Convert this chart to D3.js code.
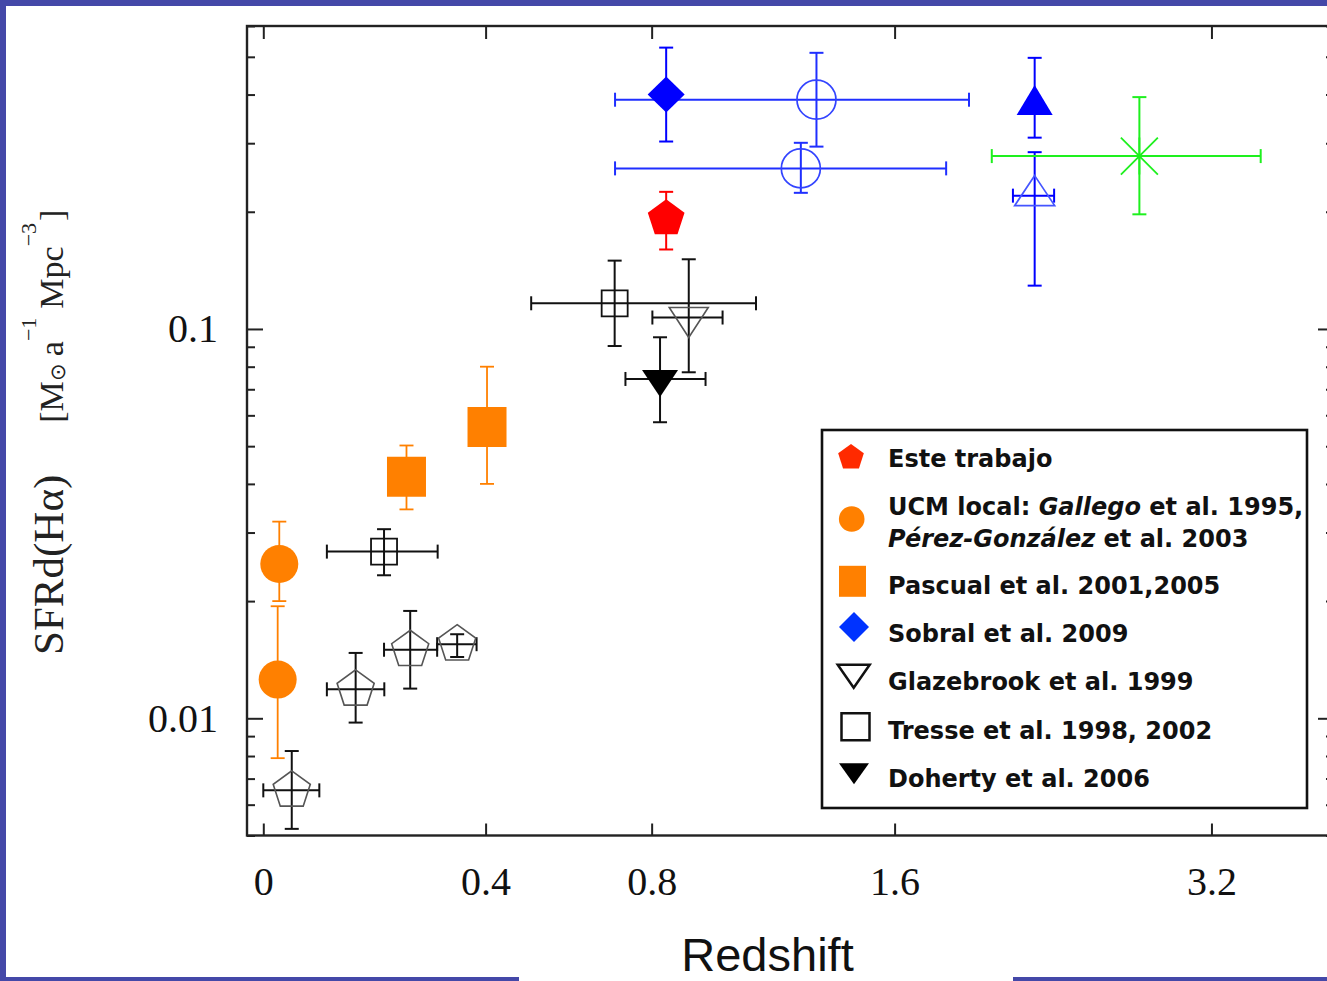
<!DOCTYPE html>
<html><head><meta charset="utf-8">
<script src="https://cdn.jsdelivr.net/npm/d3@7"></script>
<style>
html,body{margin:0;padding:0;background:#fff;}
svg{display:block;}
</style></head><body>
<svg id="chart" width="1327" height="981"></svg>
<script>
// ---------------- data ----------------
const xTickValues = [0, 0.4, 0.8, 1.6, 3.2];
const xTickLabels = ["0", "0.4", "0.8", "1.6", "3.2"];
const yMajorTicks = [0.01, 0.1];
const yMajorLabels = ["0.01", "0.1"];
const yMinorTicks = [0.005, 0.006, 0.007, 0.008, 0.009,
  0.02, 0.03, 0.04, 0.05, 0.06, 0.07, 0.08, 0.09,
  0.2, 0.3, 0.4, 0.5, 0.6];

// z = redshift, sfrd = SFR density, lo/hi = vertical error, zLo/zHi = horizontal error
const esteTrabajo = [
  { z: 0.84, sfrd: 0.192, lo: 0.160, hi: 0.225 }
];
const ucmLocal = [
  { z: 0.0245, sfrd: 0.0249, lo: 0.0200, hi: 0.0320 },
  { z: 0.022, sfrd: 0.01257, lo: 0.0079, hi: 0.0194 }
];
const pascual = [
  { z: 0.242, sfrd: 0.0417, lo: 0.0344, hi: 0.0502 },
  { z: 0.403, sfrd: 0.056, lo: 0.040, hi: 0.080 }
];
const sobral = [
  { z: 0.84, sfrd: 0.40, lo: 0.303, hi: 0.528 }
];
const blueOpenCircles = [
  { z: 1.31, sfrd: 0.388, lo: 0.294, hi: 0.512, zLo: 0.703, zHi: 1.910 },
  { z: 1.256, sfrd: 0.2585, lo: 0.2237, hi: 0.3007, zLo: 0.703, zHi: 1.811 }
];
const blueFilledTriangle = [
  { z: 2.214, sfrd: 0.376, lo: 0.31, hi: 0.497 }
];
const blueOpenTriangle = [
  { z: 2.214, sfrd: 0.22, lo: 0.1292, hi: 0.2845, zLo: 2.110, zHi: 2.310 }
];
const greenStar = [
  { z: 2.766, sfrd: 0.278, lo: 0.197, hi: 0.394, zLo: 2.012, zHi: 3.525 }
];
const glazebrook = [
  { z: 0.904, sfrd: 0.107, lo: 0.0774, hi: 0.151, zLo: 0.802, zHi: 1.004 }
];
const tresse = [
  { z: 0.2005, sfrd: 0.0268, lo: 0.0233, hi: 0.0306, zLo: 0.101, zHi: 0.302 },
  { z: 0.702, sfrd: 0.1164, lo: 0.0904, hi: 0.1498, zLo: 0.50, zHi: 1.108 }
];
const doherty = [
  { z: 0.823, sfrd: 0.0744, lo: 0.0576, hi: 0.0952, zLo: 0.730, zHi: 0.953 }
];
const openPentagons = [
  { z: 0.044, sfrd: 0.00653, lo: 0.0052, hi: 0.00824, zLo: 0.0, zHi: 0.0885 },
  { z: 0.150, sfrd: 0.01187, lo: 0.00975, hi: 0.01472, zLo: 0.101, zHi: 0.201 },
  { z: 0.249, sfrd: 0.0150, lo: 0.01192, hi: 0.01887, zLo: 0.2005, zHi: 0.301 },
  { z: 0.341, sfrd: 0.0155, lo: 0.01437, hi: 0.01644, zLo: 0.301, zHi: 0.381 }
];

const legendLabels = [
  "Este trabajo",
  "UCM local: Gallego et al. 1995,|Pérez-González et al. 2003",
  "Pascual et al. 2001,2005",
  "Sobral et al. 2009",
  "Glazebrook et al. 1999",
  "Tresse et al. 1998, 2002",
  "Doherty et al. 2006"
];
const italicWords = ["Gallego", "Pérez-González"];
const xTitle = "Redshift";

// ---------------- layout ----------------
const svg = d3.select("#chart");
const W = 1327, H = 981;
const plot = { left: 247, top: 26, right: 1334, bottom: 835.5 };
const frameBlue = "#4448a8";
const axisColor = "#222";

const xs = d3.scaleLog().domain([1, 4.2]).range([263.3, 263.3 + 1521.3 * Math.log10(4.2)]);
const x = z => xs(1 + z);
const ys = d3.scaleLog().domain([0.005, 0.6]).range([plot.bottom, plot.top]);

// blue slide frame
svg.append("rect").attr("x", 0).attr("y", 0).attr("width", W).attr("height", H).attr("fill", "#fff");
svg.append("rect").attr("x", 0).attr("y", 0).attr("width", 6).attr("height", H).attr("fill", frameBlue);
svg.append("rect").attr("x", 0).attr("y", 0).attr("width", W).attr("height", 6).attr("fill", frameBlue);
svg.append("rect").attr("x", 0).attr("y", 977).attr("width", 519).attr("height", 4).attr("fill", frameBlue);
svg.append("rect").attr("x", 1013).attr("y", 977).attr("width", W - 1013).attr("height", 4).attr("fill", frameBlue);

// axes
function styleAxis(g, showText) {
  g.select(".domain").remove();
  g.selectAll(".tick line").attr("stroke", axisColor).attr("stroke-width", 2);
  g.selectAll(".tick text").attr("fill", "#111")
    .attr("font-family", "'Liberation Serif','Times New Roman',serif")
    .attr("font-size", 40);
  if (!showText) g.selectAll(".tick text").remove();
}
const xTickPos = xTickValues.map(z => 1 + z);
svg.append("g").attr("transform", `translate(0,${plot.bottom})`)
  .call(d3.axisBottom(xs).tickValues(xTickPos).tickSize(-12).tickPadding(31)
    .tickFormat((d, i) => xTickLabels[i]))
  .call(g => styleAxis(g, true));
svg.append("g").attr("transform", `translate(0,${plot.top})`)
  .call(d3.axisTop(xs).tickValues(xTickPos).tickSize(-13).tickFormat(""))
  .call(g => styleAxis(g, false));
svg.append("g").attr("transform", `translate(${plot.left},0)`)
  .call(d3.axisLeft(ys).tickValues(yMajorTicks).tickSize(-16).tickPadding(29)
    .tickFormat((d, i) => yMajorLabels[i]))
  .call(g => styleAxis(g, true));
svg.append("g").attr("transform", `translate(${plot.left},0)`)
  .call(d3.axisLeft(ys).tickValues(yMinorTicks).tickSize(-8).tickFormat(""))
  .call(g => styleAxis(g, false));
svg.append("g").attr("transform", `translate(${plot.right},0)`)
  .call(d3.axisRight(ys).tickValues(yMajorTicks).tickSize(-16).tickFormat(""))
  .call(g => styleAxis(g, false));
svg.append("g").attr("transform", `translate(${plot.right},0)`)
  .call(d3.axisRight(ys).tickValues(yMinorTicks).tickSize(-8).tickFormat(""))
  .call(g => styleAxis(g, false));
svg.append("rect").attr("x", plot.left).attr("y", plot.top)
  .attr("width", plot.right - plot.left).attr("height", plot.bottom - plot.top)
  .attr("fill", "none").attr("stroke", axisColor).attr("stroke-width", 2.4);

// ---------------- symbols ----------------
function pentagonPath(R) {
  const p = d3.range(5).map(k => {
    const a = (-90 + k * 72) * Math.PI / 180;
    return [R * Math.cos(a), R * Math.sin(a)];
  });
  return "M" + p.map(q => q.join(",")).join("L") + "Z";
}
function circlePath(r) {
  return `M${-r},0A${r},${r} 0 1,0 ${r},0A${r},${r} 0 1,0 ${-r},0Z`;
}
function rectPath(w, h) {
  return `M${-w / 2},${-h / 2}H${w / 2}V${h / 2}H${-w / 2}Z`;
}
function diamondPath(hw, hh) {
  return `M0,${-hh}L${hw},0L0,${hh}L${-hw},0Z`;
}
// centroid-centred triangles (as plotting programs place them)
function triPath(w, h, up, bboxCentred) {
  let top, bot;
  if (bboxCentred) { top = -h / 2; bot = h / 2; }
  else if (up) { top = -2 * h / 3; bot = h / 3; }
  else { top = -h / 3; bot = 2 * h / 3; }
  return up ? `M0,${top}L${w / 2},${bot}L${-w / 2},${bot}Z`
            : `M${-w / 2},${top}L${w / 2},${top}L0,${bot}Z`;
}
function starPath(s) {
  return `M${-s},${-s}L${s},${s}M${-s},${s}L${s},${-s}M${-s},0L${s},0M0,${-s}L0,${s}`;
}

// ---------------- series ----------------
const series = [
  { data: blueOpenCircles, color: "#1f2fff", sw: 2, path: circlePath(19.5), fill: "none", stroke: "#3344ff", ssw: 1.7 },
  { data: sobral, color: "#0000ff", sw: 2, path: diamondPath(18.5, 18), fill: "#0000ff", stroke: "none" },
  { data: blueFilledTriangle, color: "#0000ff", sw: 2, path: triPath(36, 30, true, false), fill: "#0000ff", stroke: "none" },
  { data: blueOpenTriangle, color: "#0000ff", sw: 2, path: triPath(40, 30, true, false), fill: "none", stroke: "#4455ff", ssw: 1.7 },
  { data: greenStar, color: "#1ef01e", sw: 2, path: starPath(18.5), fill: "none", stroke: "#1ef01e", ssw: 1.8 },
  { data: esteTrabajo, color: "#ff0000", sw: 2, path: pentagonPath(19.3), fill: "#ff0000", stroke: "none" },
  { data: tresse, color: "#111", sw: 2, path: rectPath(26, 26), fill: "none", stroke: "#111", ssw: 1.8 },
  { data: glazebrook, color: "#111", sw: 2, path: triPath(39, 30, false, false), fill: "none", stroke: "#555", ssw: 1.6 },
  { data: doherty, color: "#111", sw: 2, path: triPath(36, 27, false, false), fill: "#000", stroke: "none" },
  { data: openPentagons, color: "#111", sw: 2, path: pentagonPath(19.5), fill: "none", stroke: "#555", ssw: 1.6 },
  { data: pascual, color: "#ff8000", sw: 1.8, path: rectPath(39, 40), fill: "#ff8000", stroke: "none" },
  { data: ucmLocal, color: "#ff8000", sw: 1.8, path: circlePath(19), fill: "#ff8000", stroke: "none" }
];

const marks = svg.append("g");
const cap = 7;
series.forEach(s => {
  const g = marks.append("g");
  s.data.forEach(d => {
    const cx = x(d.z), cy = ys(d.sfrd);
    const eb = g.append("g").attr("stroke", s.color).attr("stroke-width", s.sw).attr("fill", "none");
    if (d.lo != null) {
      const y1 = ys(d.lo), y2 = ys(d.hi);
      eb.append("line").attr("x1", cx).attr("x2", cx).attr("y1", y1).attr("y2", y2);
      eb.append("line").attr("x1", cx - cap).attr("x2", cx + cap).attr("y1", y1).attr("y2", y1);
      eb.append("line").attr("x1", cx - cap).attr("x2", cx + cap).attr("y1", y2).attr("y2", y2);
    }
    if (d.zLo != null) {
      const x1 = x(d.zLo), x2 = x(d.zHi);
      eb.append("line").attr("x1", x1).attr("x2", x2).attr("y1", cy).attr("y2", cy);
      eb.append("line").attr("x1", x1).attr("x2", x1).attr("y1", cy - cap).attr("y2", cy + cap);
      eb.append("line").attr("x1", x2).attr("x2", x2).attr("y1", cy - cap).attr("y2", cy + cap);
    }
    g.append("path").attr("d", s.path)
      .attr("transform", `translate(${cx},${cy})`)
      .attr("fill", s.fill)
      .attr("stroke", s.stroke)
      .attr("stroke-width", s.ssw || 0)
      .attr("stroke-linejoin", "miter");
  });
});

// ---------------- legend ----------------
const legend = svg.append("g");
legend.append("rect").attr("x", 822).attr("y", 430).attr("width", 485).attr("height", 378)
  .attr("fill", "#fff").attr("stroke", "#111").attr("stroke-width", 2.6);
const legendSymbols = [
  { path: pentagonPath(13.5), cx: 851, cy: 457.5, fill: "#ff2a00", stroke: "none" },
  { path: circlePath(12.8), cx: 851.7, cy: 519, fill: "#ff8000", stroke: "none" },
  { path: rectPath(27, 31), cx: 852.5, cy: 581.3, fill: "#ff8000", stroke: "none" },
  { path: diamondPath(15, 15), cx: 854, cy: 627, fill: "#0033ff", stroke: "none" },
  { path: triPath(32, 23, false, true), cx: 853.7, cy: 676.3, fill: "none", stroke: "#111", sw: 2.5 },
  { path: rectPath(28, 27), cx: 855.5, cy: 726.7, fill: "none", stroke: "#111", sw: 2.5 },
  { path: triPath(30, 21, false, true), cx: 854, cy: 773.8, fill: "#000", stroke: "none" }
];
const legendBaselines = [[467], [515, 547], [594], [642], [689.5], [738.5], [787]];
legendLabels.forEach((lab, i) => {
  const s = legendSymbols[i];
  legend.append("path").attr("d", s.path).attr("transform", `translate(${s.cx},${s.cy})`)
    .attr("fill", s.fill).attr("stroke", s.stroke).attr("stroke-width", s.sw || 0);
  lab.split("|").forEach((line, j) => {
    const t = legend.append("text").attr("x", 888).attr("y", legendBaselines[i][j])
      .attr("font-family", "'Comic Sans MS','DejaVu Sans',sans-serif")
      .attr("font-weight", "bold").attr("font-size", 24).attr("fill", "#111");
    const re = new RegExp("(" + italicWords.join("|") + ")");
    line.split(re).filter(p => p.length).forEach(part => {
      const sp = t.append("tspan").text(part);
      if (italicWords.includes(part)) sp.attr("font-style", "italic");
    });
  });
});

// ---------------- titles ----------------
svg.append("rect").attr("x", 519).attr("y", 935).attr("width", 494).attr("height", 46).attr("fill", "#fff");
svg.append("text").attr("x", 767.5).attr("y", 971).attr("text-anchor", "middle")
  .attr("font-family", "'Liberation Sans',Arial,sans-serif").attr("font-size", 47)
  .attr("fill", "#111").text(xTitle);

const yt = svg.append("text").attr("transform", "translate(63,655) rotate(-90)")
  .attr("font-family", "'Liberation Serif','Times New Roman',serif").attr("fill", "#222")
  .attr("font-size", 43);
yt.append("tspan").text("SFRd(Hα)");
yt.append("tspan").attr("font-size", 34).attr("dx", 52).text("[M");
yt.append("tspan").attr("font-size", 21).attr("dy", 2).text("⊙");
yt.append("tspan").attr("font-size", 34).attr("dy", -2).attr("dx", 7).text("a");
yt.append("tspan").attr("font-size", 22).attr("dy", -27).text("−1");
yt.append("tspan").attr("font-size", 34).attr("dy", 27).attr("dx", 9).text("Mpc");
yt.append("tspan").attr("font-size", 22).attr("dy", -27).text("−3");
yt.append("tspan").attr("font-size", 34).attr("dy", 27).attr("dx", 2).text("]");
</script>
</body></html>
